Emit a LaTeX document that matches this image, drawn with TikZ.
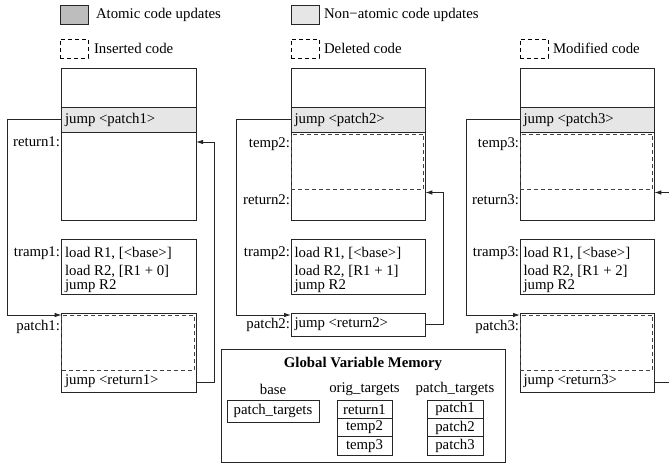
\documentclass[tikz,border=0pt]{standalone}
\usepackage{fontspec}
\setmainfont{Liberation Serif}
\usetikzlibrary{arrows.meta}
\definecolor{agray}{HTML}{BDBDBD}
\definecolor{ngray}{HTML}{E6E6E6}
\definecolor{dgray}{HTML}{444444}
\begin{document}
\begin{tikzpicture}[x=1pt,y=-1pt,
  every node/.style={font=\fontsize{14.8}{17}\selectfont, inner sep=0pt, outer sep=0pt},
  box/.style={draw=black!85, line width=0.9pt, anchor=north west, minimum width=134.3pt},
  dbox/.style={draw=dgray, line width=0.9pt, dash pattern=on 4pt off 3pt, anchor=north west, minimum width=132.8pt},
  lgbox/.style={draw=black!85, line width=0.8pt, anchor=north west, minimum width=28pt, minimum height=19pt},
  lgdash/.style={lgbox, draw=black, dash pattern=on 4pt off 3pt},
  txt/.style={anchor=west},
  lbl/.style={anchor=east},
  cell/.style={draw=black!85, line width=0.8pt, minimum height=18.3pt},
  conn/.style={draw=black!85, line width=0.9pt},
  arr/.style={conn, -{Latex[length=7pt,width=4.5pt]}}]
\useasboundingbox (0,0) rectangle (669,464);

% legend
\node[lgbox, fill=agray] (la) at (60,5) {};
\node[txt] (lat) at (96,15) {Atomic code updates};
\node[lgbox, fill=ngray] (ln) at (291,5) {};
\node[txt] (lnt) at (324,15) {Non\textminus atomic code updates};
\node[lgdash] (li) at (60,39) {};
\node[txt] (lit) at (94,48) {Inserted code};
\node[lgdash] (ld) at (291,39) {};
\node[txt] (ldt) at (324,48) {Deleted code};
\node[lgdash] (lm) at (520,39) {};
\node[txt] (lmt) at (553,48) {Modified code};

% ---------- column 1 ----------
\node[box, minimum height=152pt] (m1) at (61.7,68) {};
\node[box, fill=ngray, minimum height=25pt] (j1) at (61.7,107) {};
\node[txt] (j1t) at (65,119.5) {jump <patch1>};
\node[lbl] (r1l) at (60,142) {return1:};
\node[box, minimum height=55pt] (t1) at (61.7,239) {};
\node[lbl] (t1l) at (60,253) {tramp1:};
\node[txt] (t1a) at (65,253) {load R1, [<base>]};
\node[txt] (t1b) at (65,271.5) {load R2, [R1 + 0]};
\node[txt] (t1c) at (65,286) {jump R2};
\node[box, minimum height=79pt] (p1) at (61.7,313) {};
\node[dbox, minimum height=55pt] (q1) at (61.7,315) {};
\node[lbl] (p1l) at (60,327) {patch1:};
\node[txt] (p1t) at (65,381) {jump <return1>};

% ---------- column 2 ----------
\node[box, minimum height=152pt] (m2) at (291,68) {};
\node[box, fill=ngray, minimum height=25pt] (j2) at (291,107) {};
\node[dbox, minimum height=55pt] (d2) at (291,134.5) {};
\node[txt] (j2t) at (294.5,119.5) {jump <patch2>};
\node[lbl] (e2l) at (290,144) {temp2:};
\node[lbl] (r2l) at (290,200) {return2:};
\node[box, minimum height=55pt] (t2) at (291,239) {};
\node[lbl] (t2l) at (290,253) {tramp2:};
\node[txt] (t2a) at (294.5,253) {load R1, [<base>]};
\node[txt] (t2b) at (294.5,271.5) {load R2, [R1 + 1]};
\node[txt] (t2c) at (294.5,286) {jump R2};
\node[box, minimum height=23pt] (p2) at (291,313) {};
\node[lbl] (p2l) at (290,324.5) {patch2:};
\node[txt] (p2t) at (294.5,324.5) {jump <return2>};

% ---------- column 3 ----------
\node[box, minimum height=152pt] (m3) at (520,68) {};
\node[box, fill=ngray, minimum height=25pt] (j3) at (520,107) {};
\node[dbox, minimum height=55pt] (d3) at (520,134.5) {};
\node[txt] (j3t) at (523.5,119.5) {jump <patch3>};
\node[lbl] (e3l) at (519,144) {temp3:};
\node[lbl] (r3l) at (519,200) {return3:};
\node[box, minimum height=55pt] (t3) at (520,239) {};
\node[lbl] (t3l) at (519,253) {tramp3:};
\node[txt] (t3a) at (523.5,253) {load R1, [<base>]};
\node[txt] (t3b) at (523.5,271.5) {load R2, [R1 + 2]};
\node[txt] (t3c) at (523.5,286) {jump R2};
\node[box, minimum height=79pt] (p3) at (520,313) {};
\node[dbox, minimum height=55pt] (q3) at (520,315) {};
\node[lbl] (p3l) at (519,327) {patch3:};
\node[txt] (p3t) at (523.5,381) {jump <return3>};

% ---------- connectors ----------
\coordinate (L1) at (7,0);
\coordinate (R1) at (214,0);
\coordinate (L2) at (236,0);
\coordinate (R2) at (443,0);
\coordinate (L3) at (466,0);
\coordinate (R3) at (669,0);
\coordinate (p1in) at ([yshift=-2pt]p1.north west);
\coordinate (p2in) at ([yshift=-2pt]p2.north west);
\coordinate (p3in) at ([yshift=-2pt]p3.north west);
\coordinate (p1out) at ([yshift=10pt]p1.south east);
\coordinate (p2out) at (p2.east);
\coordinate (p3out) at ([yshift=10pt]p3.south east);
\coordinate (m1in) at ([yshift=-74pt]m1.north east);
\coordinate (m2in) at ([yshift=-124.5pt]m2.north east);
\coordinate (m3in) at ([yshift=-124.5pt]m3.north east);

\draw[arr] (j1.west) -- (j1.west -| L1) |- (p1in);
\draw[arr] (p1out) -- (p1out -| R1) |- (m1in);
\draw[arr] (j2.west) -- (j2.west -| L2) |- (p2in);
\draw[arr] (p2out) -- (p2out -| R2) |- (m2in);
\draw[arr] (j3.west) -- (j3.west -| L3) |- (p3in);
\draw[conn] (p3out) -- (p3out -| R3);
\draw[arr] (m3in -| R3) -- (m3in);

% ---------- global variable memory ----------
\node[draw=black!85, line width=0.9pt, anchor=north west, minimum width=284pt, minimum height=113pt] (g) at (221,349) {};
\node[font=\fontsize{14.8}{17}\selectfont\bfseries] (gt) at (363,364) {Global Variable Memory};
\node (gb) at (273,389) {base};
\node (go) at (364.5,389) {orig\_targets};
\node (gp) at (455,389) {patch\_targets};
\node[cell, minimum width=92pt, minimum height=22pt] (bpt) at (273,411) {patch\_targets};
\node[cell, minimum width=55pt] (o1) at (364.5,409.2) {return1};
\node[cell, minimum width=55pt] (o2) at (364.5,427.5) {temp2};
\node[cell, minimum width=55pt] (o3) at (364.5,445.8) {temp3};
\node[cell, minimum width=56pt] (q1c) at (455,409.2) {patch1};
\node[cell, minimum width=56pt] (q2c) at (455,427.5) {patch2};
\node[cell, minimum width=56pt] (q3c) at (455,445.8) {patch3};
\end{tikzpicture}
\end{document}
